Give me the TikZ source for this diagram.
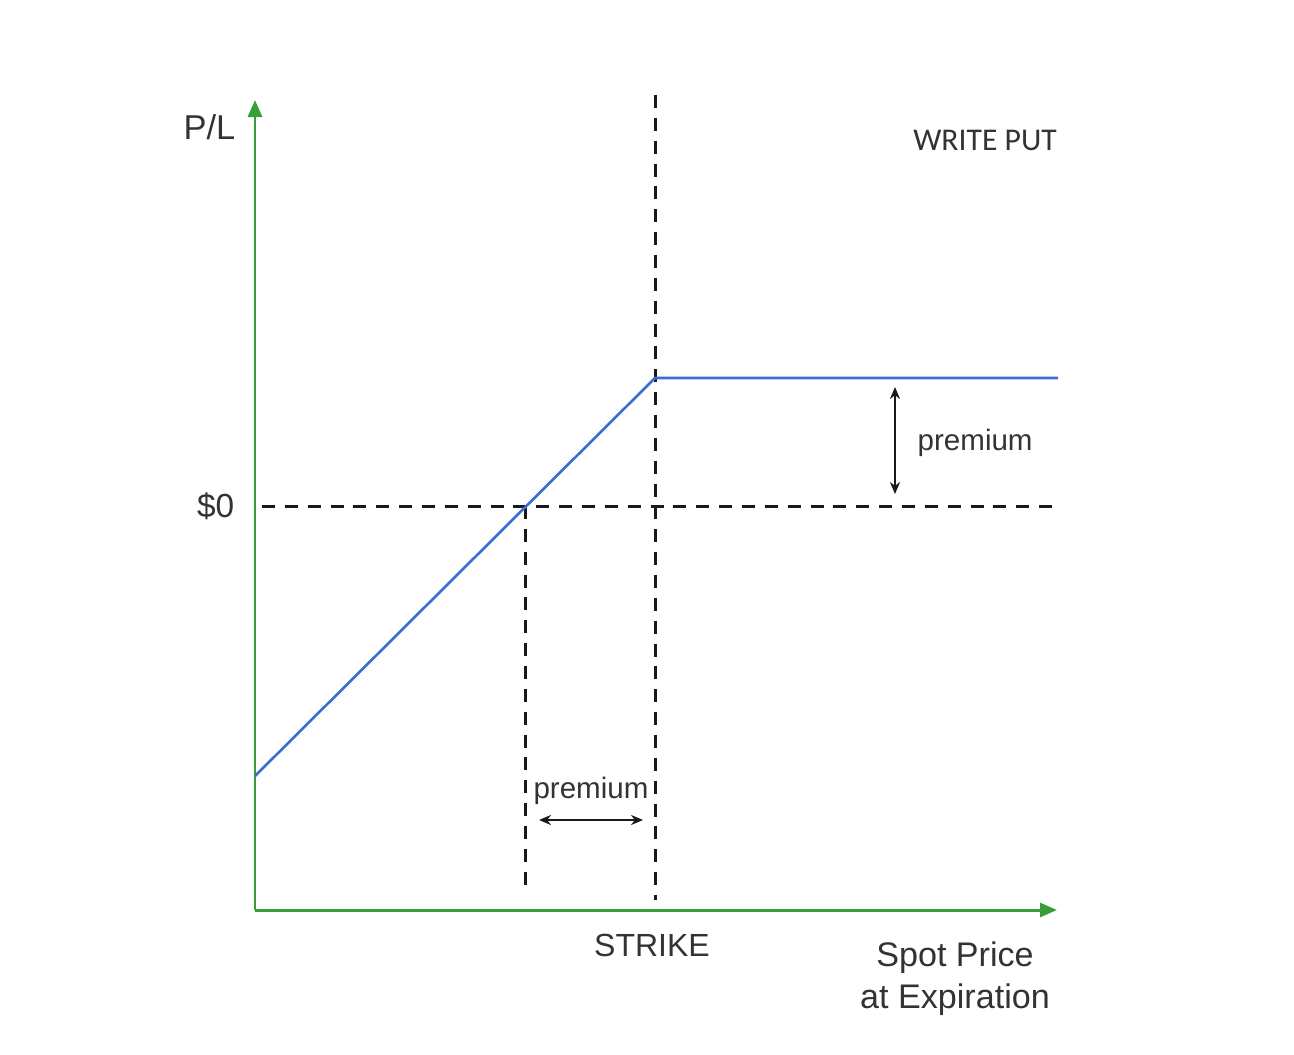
\documentclass[tikz,border=0pt]{standalone}
\usepackage{fontspec}
\setmainfont{Liberation Sans}
\newfontfamily\putfont{Carlito}
\usetikzlibrary{arrows.meta,positioning}
\definecolor{axisgreen}{RGB}{56,158,56}
\definecolor{payblue}{RGB}{62,106,218}
\tikzstyle{axis} = [draw=axisgreen, line width=0.85pt, -{Triangle[length=0.17cm,width=0.14cm]}]
\tikzstyle{guide} = [draw=black!90, line width=0.85pt, dash pattern=on 3.7pt off 2.8pt]
\tikzstyle{payoff} = [draw=payblue, line width=0.75pt, line join=round]
\tikzstyle{span} = [draw=black!90, line width=0.65pt, {Stealth[length=0.12cm,width=0.1cm]}-{Stealth[length=0.12cm,width=0.1cm]}]
\tikzstyle{lbl} = [text=black!80, font=\fontsize{9}{11}\selectfont, inner sep=0pt]

\begin{document}
\begin{tikzpicture}[x=0.01cm, y=-0.01cm]
        \useasboundingbox (0,0) rectangle (1294,1054);
        % axes
        \coordinate (origin) at (255,910);
        \coordinate (ytip) at (255,100);
        \coordinate (xtip) at (1057,910);
        \draw[axis] (origin) -- (ytip);
        \draw[axis] (origin) -- (xtip);
        % guide lines
        \coordinate (strikeTop) at (655,95);
        \coordinate (strikeBot) at (655,900);
        \coordinate (zeroL) at (262,506);
        \coordinate (zeroR) at (1058,506);
        \coordinate (beTop) at (525,506);
        \coordinate (beBot) at (525,893);
        \draw[guide] (strikeTop) -- (strikeBot);
        \draw[guide] (zeroL) -- (zeroR);
        \draw[guide] (beTop) -- (beBot);
        % payoff
        \coordinate (payStart) at (255,776);
        \coordinate (payKink) at (655,378);
        \coordinate (payEnd) at (1058,378);
        \draw[payoff] (payStart) -- (payKink) -- (payEnd);
        % premium arrows
        \coordinate (premTop) at (895,387);
        \coordinate (premBot) at (895,494);
        \draw[span] (premTop) -- (premBot);
        \coordinate (premL) at (539,820);
        \coordinate (premR) at (643,820);
        \draw[span] (premL) -- (premR);
        % labels
        \node[lbl, anchor=east, font=\fontsize{9.8}{12}\selectfont] (pl) at (236,127) {P/L};
        \node[lbl, anchor=east, font=\fontsize{9.5}{12}\selectfont] (zero) at (235,506) {\$0};
        \node[lbl, font=\putfont\fontsize{9}{11}\selectfont] (title) at (985,140) {WRITE PUT};
        \node[lbl, font=\fontsize{8.4}{10}\selectfont, anchor=west] (premlabel) at (917,443) {premium};
        \node[lbl, font=\fontsize{8.4}{10}\selectfont] (premlabelb) at (591,791) {premium};
        \node[lbl, font=\fontsize{9.1}{11}\selectfont] (strike) at (652,945) {STRIKE};
        \node[lbl, align=center, font=\fontsize{9.7}{12}\selectfont] (spot) at (955,979) {Spot Price\\at Expiration};

    \end{tikzpicture}
\end{document}
